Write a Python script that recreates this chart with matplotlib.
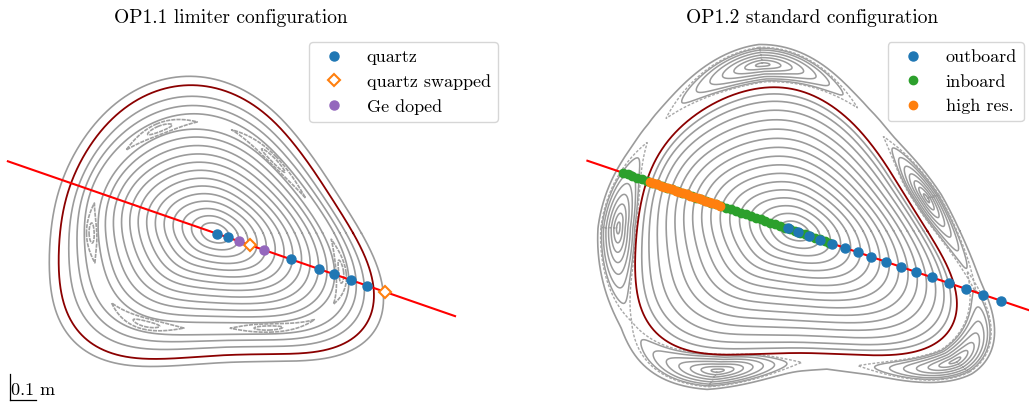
import numpy as np
import matplotlib
matplotlib.use("Agg")
import matplotlib.pyplot as plt

plt.rcParams['font.family'] = 'cmr10'
plt.rcParams['axes.formatter.use_mathtext'] = True

# ---- OP1.1 limiter configuration (metres from the magnetic axis) ----
op11_lcfs_R = [-0.135, 0.019, 0.146, 0.277, 0.377, 0.442, 0.531, 0.585, 0.627, 0.642,
               0.623, 0.558, 0.277, 0.058, -0.250, -0.442, -0.531, -0.585, -0.596, -0.585,
               -0.558, -0.508, -0.431, -0.315]
op11_lcfs_Z = [0.582, 0.558, 0.500, 0.369, 0.231, 0.127, -0.027, -0.115, -0.219, -0.308,
               -0.412, -0.442, -0.450, -0.458, -0.477, -0.469, -0.423, -0.323, -0.131, 0.069,
               0.192, 0.281, 0.408, 0.512]
op11_surfaces = [0.08, 0.135, 0.19, 0.245, 0.30, 0.355, 0.41, 0.465, 0.52, 0.575,
                 0.63, 0.685, 0.735, 0.83, 0.88, 0.935]
op11_outer = [1.06]
op11_island_ang = [180, 118, 51, 343, 299, 233]
op11_island_half = [14, 19, 30, 14, 20, 19]
op11_island_rho = 0.78
op11_island_w = 0.035
op11_sightline_deg = -19.1

# fibre positions along the sightline (m from axis)
quartz = [0.007, 0.052, 0.308, 0.423, 0.485, 0.552, 0.620]
quartz_swapped = [0.144, 0.691]
ge_doped = [0.099, 0.200]

# ---- OP1.2 standard configuration ----
op12_lcfs_R = [-0.113, -0.292, -0.446, -0.549, -0.587, -0.607, -0.607, -0.587, -0.523, -0.292,
               0.028, 0.349, 0.643, 0.688, 0.682, 0.631, 0.541, 0.438, 0.323, 0.220,
               0.092, -0.010]
op12_lcfs_Z = [0.562, 0.504, 0.401, 0.273, 0.119, -0.073, -0.265, -0.407, -0.458, -0.464,
               -0.458, -0.464, -0.458, -0.407, -0.342, -0.240, -0.086, 0.093, 0.286, 0.414,
               0.517, 0.555]
op12_surfaces = [0.08, 0.14, 0.20, 0.26, 0.32, 0.38, 0.44, 0.50, 0.56, 0.62,
                 0.68, 0.74, 0.80, 0.86, 0.915, 0.96]
# 5/5 island chain outside the LCFS
op12_island_ang = [14, 101, 179, 241, 321]
op12_island_half = [33, 38, 30, 32, 26]
op12_island_rho = [1.15, 1.16, 1.12, 1.13, 1.15]
op12_island_w = [0.11, 0.12, 0.11, 0.13, 0.10]
op12_xpt_ang = [59, 144, 209, 283, 347]
op12_xpt_rho = [1.12, 1.10, 1.08, 1.06, 1.13]
op12_sightline_deg = -18.7

outboard = [-0.030, 0.013, 0.056, 0.102, 0.152, 0.203, 0.256, 0.310, 0.368, 0.429,
            0.490, 0.555, 0.625, 0.693, 0.765, 0.838]
inboard = [-0.70, -0.68, -0.66, -0.64, -0.62, -0.60, -0.58, -0.56, -0.54, -0.52,
           -0.50, -0.48, -0.46, -0.44, -0.42, -0.40, -0.38, -0.36, -0.34, -0.32,
           -0.30, -0.28, -0.26, -0.24, -0.22, -0.20, -0.18, -0.16, -0.14, -0.12,
           -0.10, -0.08, -0.06, -0.04, -0.02, 0.00, 0.02, 0.04, 0.06, 0.08,
           0.10, 0.12, 0.14]
high_res = [-0.590, -0.575, -0.560, -0.545, -0.530, -0.515, -0.500, -0.485, -0.470, -0.455,
            -0.440, -0.425, -0.410, -0.395, -0.380, -0.365, -0.350, -0.335, -0.320, -0.305]

sightline_range = [-0.843, 0.977]

GREY = '#9b9b9b'


def fit_radius(R, Z, nharm=12, taper=7.0):
    """Smooth periodic r(theta) of the outline around the axis."""
    R = np.append(R, R[0])
    Z = np.append(Z, Z[0])
    # densify the outline along straight segments first
    f = np.linspace(0, 1, 40, endpoint=False)
    xs = np.concatenate([R[i] + f * (R[i + 1] - R[i]) for i in range(len(R) - 1)])
    zs = np.concatenate([Z[i] + f * (Z[i + 1] - Z[i]) for i in range(len(Z) - 1)])
    n = 1024
    grid = np.linspace(0, 2 * np.pi, n, endpoint=False)
    rg = np.interp(grid, np.arctan2(zs, xs), np.hypot(xs, zs), period=2 * np.pi)
    m = np.arange(nharm + 1)
    c = np.fft.rfft(rg)[:nharm + 1] / n * np.exp(-(m / taper) ** 2)

    def rb(t):
        t = np.asarray(t, dtype=float)
        out = c[0].real * np.ones_like(t)
        for k in range(1, nharm + 1):
            out = out + 2 * (c[k].real * np.cos(k * t) - c[k].imag * np.sin(k * t))
        return out
    return rb


def flux_xy(rb, rho, th, kappa, tilt):
    # blend from an elliptic core to the boundary shape
    rbar = np.sqrt(np.mean(rb(np.linspace(0, 2 * np.pi, 360, endpoint=False)) ** 2))
    a, b = rbar * np.sqrt(kappa), rbar / np.sqrt(kappa)
    p = th - np.radians(tilt)
    re = a * b / np.hypot(b * np.cos(p), a * np.sin(p))
    w = np.clip(rho, 0, 1)
    r = rho * ((1 - w) * re + w * rb(th))
    return r * np.cos(th), r * np.sin(th)


def island_curve(ang, half, s, n=240):
    t = np.linspace(0, 2 * np.pi, n)
    u = 2 / np.pi * np.arcsin(np.clip(s * np.sin(t), -1, 1))
    return np.radians(ang) + np.radians(half) * u, s * np.cos(t)


def envelope(th, angs, halfs):
    h = np.zeros_like(th)
    for c, d in zip(angs, halfs):
        u = (np.mod(th - np.radians(c) + np.pi, 2 * np.pi) - np.pi) / np.radians(d)
        h = np.maximum(h, np.where(np.abs(u) < 1, np.cos(np.pi * np.clip(u, -1, 1) / 2), 0))
    return h


def sightline(ax, deg):
    d = np.radians(deg)
    s = np.array(sightline_range)
    ax.plot(s * np.cos(d), s * np.sin(d), color='red', lw=1.5, zorder=3)


def on_line(vals, deg):
    d = np.radians(deg)
    v = np.asarray(vals)
    return v * np.cos(d), v * np.sin(d)


fig = plt.figure(figsize=(10.29, 4.08), dpi=100)
ax1 = fig.add_axes([0, 0, 514 / 1029, 378 / 408])
ax2 = fig.add_axes([514 / 1029, 0, 515 / 1029, 378 / 408])
th = np.linspace(0, 2 * np.pi, 1441)

# ---------------- left panel ----------------
rb1 = fit_radius(op11_lcfs_R, op11_lcfs_Z)
k1, t1 = 1.6, -20
for rho in op11_surfaces + op11_outer:
    x, y = flux_xy(rb1, rho, th, k1, t1)
    ax1.plot(x, y, color=GREY, lw=1.2, zorder=1)
x, y = flux_xy(rb1, 1.0, th, k1, t1)
ax1.plot(x, y, color='darkred', lw=1.3, zorder=2)
for ang, half in zip(op11_island_ang, op11_island_half):
    for s in [0.5, 1.0]:
        ti, dr = island_curve(ang, half, s)
        x, y = flux_xy(rb1, op11_island_rho + op11_island_w * dr, ti, k1, t1)
        ax1.plot(x, y, color='#a0a0a0', lw=1.2, ls=(0, (2.5, 0.6)), zorder=1)

sightline(ax1, op11_sightline_deg)
ax1.plot(*on_line(quartz, op11_sightline_deg), 'o', color='C0', ms=6.5, zorder=5, label='quartz')
ax1.plot(*on_line(quartz_swapped, op11_sightline_deg), 'D', color='C1', mfc='white',
         mew=1.5, ms=6, zorder=5, label='quartz swapped')
ax1.plot(*on_line(ge_doped, op11_sightline_deg), 'o', color='C4', ms=6.5, zorder=5, label='Ge doped')

# 0.1 m scale bar
x0, y0 = -0.790, -0.642
ax1.plot([x0, x0 + 0.1], [y0, y0], color='k', lw=0.9)
ax1.plot([x0, x0], [y0, y0 + 0.1], color='k', lw=0.9)
ax1.text(x0 + 0.004, y0 + 0.006, '0.1 m', fontsize=13, ha='left', va='bottom')

ax1.set_xlim(-215 / 260, 299 / 260)
ax1.set_ylim(-175 / 260, 203 / 260)
ax1.axis('off')
ax1.text(231 / 514, 1 + 12 / 378, 'OP1.1 limiter configuration', fontsize=14,
         ha='center', va='center', transform=ax1.transAxes)
ax1.legend(loc='upper right', bbox_to_anchor=(498 / 514, 1 - 12 / 378), borderaxespad=0,
           fontsize=13, numpoints=1)

# ---------------- right panel ----------------
rb2 = fit_radius(op12_lcfs_R, op12_lcfs_Z)
k2, t2 = 1.7, -20
for rho in op12_surfaces:
    x, y = flux_xy(rb2, rho, th, k2, t2)
    ax2.plot(x, y, color=GREY, lw=1.2, zorder=1)
x, y = flux_xy(rb2, 1.0, th, k2, t2)
ax2.plot(x, y, color='darkred', lw=1.3, zorder=2)

ctr_ang = np.radians(op12_island_ang + op12_xpt_ang)
ctr_rho = op12_island_rho + op12_xpt_rho


def rho_c(t):
    return np.interp(t, ctr_ang, ctr_rho, period=2 * np.pi)


def width(t):
    return np.interp(t, np.radians(op12_island_ang), op12_island_w, period=2 * np.pi)


for ang, half in zip(op12_island_ang, op12_island_half):
    for s in [0.1, 0.25, 0.4, 0.55, 0.7, 0.84, 0.95]:
        ti, dr = island_curve(ang, half, s)
        x, y = flux_xy(rb2, rho_c(ti) + width(ti) * dr, ti, k2, t2)
        ax2.plot(x, y, color=GREY, lw=1.1, zorder=1)
    ti, dr = island_curve(ang, half, 1.0)
    x, y = flux_xy(rb2, rho_c(ti) + width(ti) * dr, ti, k2, t2)
    ax2.plot(x, y, color='#a8a8a8', lw=1.0, ls=(0, (2, 1.2)), zorder=1)

# outermost closed surface wrapping the island chain
h = envelope(th, op12_island_ang, op12_island_half)
x, y = flux_xy(rb2, rho_c(th) + width(th) * np.sqrt(0.35 + h ** 2), th, k2, t2)
ax2.plot(x, y, color=GREY, lw=1.2, zorder=1)

sightline(ax2, op12_sightline_deg)
ax2.plot(*on_line(outboard, op12_sightline_deg), 'o', color='C0', ms=6.5, zorder=6, label='outboard')
ax2.plot(*on_line(inboard, op12_sightline_deg), 'o', color='C2', ms=6, zorder=4, label='inboard')
ax2.plot(*on_line(high_res, op12_sightline_deg), 'o', color='C1', ms=6, zorder=5, label='high res.')

ax2.set_xlim(-281 / 260, 234 / 260)
ax2.set_ylim(-177 / 260, 201 / 260)
ax2.axis('off')
ax2.text(298 / 515, 1 + 12 / 378, 'OP1.2 standard configuration', fontsize=14,
         ha='center', va='center', transform=ax2.transAxes)
ax2.legend(loc='upper right', bbox_to_anchor=(510 / 515, 1 - 12 / 378), borderaxespad=0,
           fontsize=13, numpoints=1)

fig.savefig('out.png', dpi=100)
